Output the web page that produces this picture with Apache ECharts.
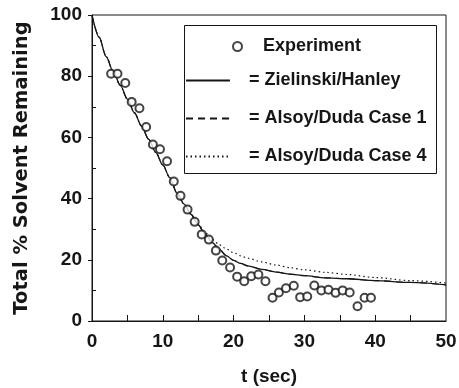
<!DOCTYPE html>
<html>
<head>
<meta charset="utf-8">
<style>
html, body { margin: 0; padding: 0; background: #fff; }
#chart { width: 459px; height: 388px; }
</style>
</head>
<body>
<div id="chart"></div>
<script src="https://cdn.jsdelivr.net/npm/echarts@6/dist/echarts.min.js"></script>
<script>
// experiment (circles)
var expT = [2.7, 3.6, 4.7, 5.6, 6.7, 7.65, 8.6, 9.6, 10.6, 11.55, 12.5, 13.5, 14.5, 15.5, 16.5, 17.5, 18.4, 19.5,
            20.5, 21.5, 22.5, 23.5, 24.5, 25.5, 26.4, 27.4, 28.5, 29.4, 30.4, 31.4, 32.4, 33.4, 34.4, 35.4, 36.4, 37.5, 38.5, 39.4];
var expY = [80.8, 80.8, 77.8, 71.6, 69.5, 63.4, 57.7, 56.1, 52.2, 45.6, 40.9, 36.4, 32.4, 28.3, 26.6, 23.0, 19.8, 17.5,
            14.5, 13.0, 14.6, 15.2, 13.0, 7.6, 9.3, 10.7, 11.5, 7.8, 8.0, 11.6, 10.0, 10.2, 9.2, 10.0, 9.3, 4.8, 7.6, 7.6];

// model curves, same time grid
var modelT    = [0, 1, 2, 3, 4, 5, 6, 7, 8, 9, 10, 11, 12, 13, 14, 15, 16, 17, 18, 19, 20, 21, 22, 24, 26, 28, 30, 33, 36, 40, 45, 50];
var zielinski = [100, 92.8, 86.4, 81.5, 77, 72.5, 68, 63.7, 59.4, 55.1, 51, 46.8, 41.8, 38.2, 34.8, 31.4, 28.3, 25.6, 23.3, 21.3,
                 19.8, 18.8, 18.0, 16.9, 16.0, 15.3, 14.8, 14.1, 13.8, 13.2, 12.6, 11.8];
var caseOne   = [100, 92.8, 86.4, 81.5, 77, 72.5, 68, 63.7, 59.4, 55.1, 51, 46.8, 41.8, 38.2, 34.8, 31.4, 28.3, 25.6, 23.3, 21.3,
                 19.8, 18.8, 18.0, 16.9, 16.0, 15.3, 14.8, 14.1, 13.8, 13.2, 12.6, 11.8];
var caseFour  = [100, 92.8, 86.4, 81.5, 77, 72.5, 68, 63.7, 59.4, 55.1, 51, 46.8, 41.8, 38.2, 34.8, 31.6, 28.9, 26.6, 24.9, 23.5,
                 22.3, 21.3, 20.5, 19.3, 18.3, 17.4, 16.7, 15.9, 15.2, 14.2, 13.2, 12.4];

var xMinorTicks = [5, 10, 15, 20, 25, 30, 35, 40, 45];
var yMinorTicks = [10, 30, 50, 70, 90];

function pairs(xs, ys) {
  var out = [];
  for (var i = 0; i < xs.length; i++) out.push([xs[i], ys[i]]);
  return out;
}

var ink = '#161616';
var labelFont = { fontFamily: 'Liberation Sans', fontWeight: 'bold', fontSize: 19, color: ink };
var legendFont = { fontFamily: 'Liberation Sans', fontWeight: 'bold', fontSize: 18, color: ink, lineHeight: 18 };

var chart = echarts.init(document.getElementById('chart'), null, { renderer: 'canvas' });

var option = {
  animation: false,
  backgroundColor: '#fff',
  grid: {
    left: 92, right: 13, top: 15, bottom: 67, containLabel: false, outerBoundsMode: 'none',
    show: true, borderColor: ink, borderWidth: 1
  },
  xAxis: {
    type: 'value', min: 0, max: 50, interval: 10,
    name: 't (sec)', nameLocation: 'middle', nameGap: 46,
    nameTextStyle: { fontFamily: 'Liberation Sans', fontWeight: 'bold', fontSize: 19, color: ink },
    axisLine: { lineStyle: { color: ink, width: 1 } },
    axisTick: { inside: true, length: 6, customValues: xMinorTicks, lineStyle: { color: ink } },
    axisLabel: Object.assign({ margin: 11 }, labelFont),
    splitLine: { show: false }
  },
  yAxis: [
    {
      type: 'value', min: 0, max: 100, interval: 20,
      name: 'Total % Solvent Remaining', nameLocation: 'middle', nameGap: 60, nameRotate: 90,
      nameTextStyle: { fontFamily: 'DejaVu Sans', fontWeight: 'bold', fontSize: 19.5, color: ink },
      axisLine: { lineStyle: { color: ink, width: 1 } },
      axisTick: { inside: false, length: 4, lineStyle: { color: ink } },
      axisLabel: Object.assign({ margin: 10 }, labelFont),
      splitLine: { show: false }
    },
    {
      type: 'value', min: 0, max: 100, interval: 10, position: 'left',
      axisLine: { show: false },
      axisTick: { inside: true, length: 4, customValues: yMinorTicks, lineStyle: { color: ink } },
      axisLabel: { show: false },
      splitLine: { show: false }
    }
  ],
  legend: [
    {
      data: ['Experiment'], orient: 'vertical', left: 232, top: 37.5, padding: 0,
      itemWidth: 9, itemHeight: 9, selectedMode: false, z: 6,
      textStyle: Object.assign({ padding: [0, 0, 0, 16] }, legendFont)
    },
    {
      data: ['Zielinski/Hanley', 'Alsoy/Duda Case 1', 'Alsoy/Duda Case 4'],
      orient: 'vertical', left: 185, top: 71.5, padding: 0,
      itemWidth: 44, itemHeight: 14, itemGap: 20,
      selectedMode: false, z: 6,
      itemStyle: { opacity: 0, borderWidth: 0 },
      formatter: function (name) { return '= ' + name; },
      textStyle: Object.assign({ padding: [0, 0, 0, 14] }, legendFont)
    }
  ],
  graphic: [
    {
      type: 'rect', z: 5,
      shape: { x: 184.5, y: 25.5, width: 252, height: 148 },
      style: { fill: '#fff', stroke: ink, lineWidth: 1 }
    }
  ],
  series: [
    {
      name: 'Alsoy/Duda Case 1', type: 'line', data: pairs(modelT, caseOne),
      symbol: 'none', smooth: 0.3, smoothMonotone: 'x', z: 2,
      itemStyle: { color: ink },
      lineStyle: { color: ink, width: 1.1, type: [7, 5] }
    },
    {
      name: 'Alsoy/Duda Case 4', type: 'line', data: pairs(modelT, caseFour),
      symbol: 'none', smooth: 0.3, smoothMonotone: 'x', z: 2,
      itemStyle: { color: ink },
      lineStyle: { color: ink, width: 1.2, type: [1.5, 3] }
    },
    {
      name: 'Zielinski/Hanley', type: 'line', data: pairs(modelT, zielinski),
      symbol: 'none', smooth: 0.3, smoothMonotone: 'x', z: 3,
      itemStyle: { color: ink },
      lineStyle: { color: ink, width: 1.3, type: 'solid' }
    },
    {
      name: 'Experiment', type: 'scatter', data: pairs(expT, expY),
      symbol: 'emptyCircle', symbolSize: 8, z: 4,
      itemStyle: { color: ink, borderColor: ink, borderWidth: 1.1 }
    }
  ]
};

chart.setOption(option);
</script>
</body>
</html>
